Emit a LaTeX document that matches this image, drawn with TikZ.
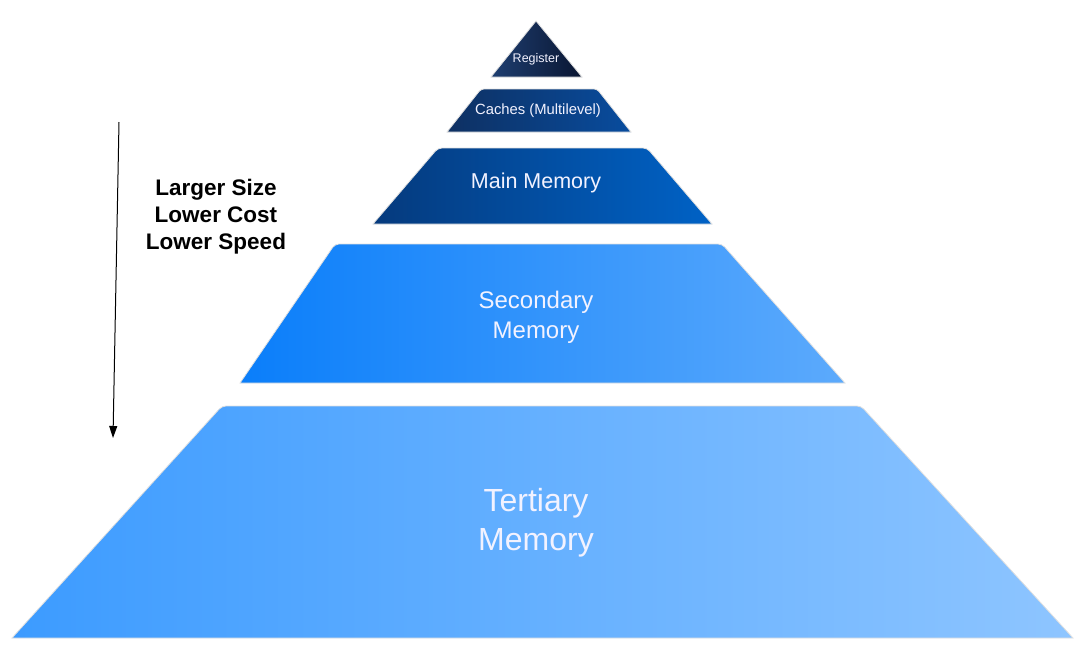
\documentclass[tikz,border=0pt]{standalone}
\usepackage{fontspec}
\setmainfont{Liberation Sans}
\usetikzlibrary{arrows.meta}

\tikzset{
  tier/.style={draw=black!12,line width=0.8pt},
  tierlabel/.style={text=white!95!blue,align=center,inner sep=0pt},
}

\begin{document}
\begin{tikzpicture}[x=1pt,y=-1pt]
    \useasboundingbox (0,0) rectangle (1080,649);

    % Register
    \shade [tier,left color={rgb,255:red,30;green,62;blue,112},right color={rgb,255:red,10;green,22;blue,50}]
      (491,77) -- (536,21) -- (582,77) -- cycle;
    \node (reg) at (536,59) [tierlabel,font=\fontsize{12.5}{15}\selectfont] {Register};

    % Caches
    \shade [tier,left color={rgb,255:red,14;green,48;blue,98},right color={rgb,255:red,8;green,76;blue,158}]
      (447,132) [rounded corners=3] -- (481,89) -- (597,89) [sharp corners] -- (631,132) -- cycle;
    \node (cache) at (538,111) [tierlabel,font=\fontsize{14.8}{17}\selectfont] {Caches (Multilevel)};

    % Main memory
    \shade [tier,left color={rgb,255:red,5;green,58;blue,125},right color={rgb,255:red,0;green,98;blue,198}]
      (373,224) [rounded corners=4] -- (438,148) -- (647,148) [sharp corners] -- (712,224) -- cycle;
    \node (main) at (536,183) [tierlabel,font=\fontsize{21.5}{25}\selectfont] {Main Memory};

    % Secondary memory
    \shade [tier,left color={rgb,255:red,10;green,126;blue,250},right color={rgb,255:red,92;green,170;blue,252}]
      (240,383) [rounded corners=4] -- (335,244) -- (722,244) [sharp corners] -- (845,383) -- cycle;
    \node (sec) at (536,317) [tierlabel,font=\fontsize{24}{30}\selectfont] {Secondary\\Memory};

    % Tertiary memory
    \shade [tier,left color={rgb,255:red,60;green,155;blue,255},right color={rgb,255:red,142;green,197;blue,255}]
      (12,638) [rounded corners=4] -- (222,406) -- (861,406) [sharp corners] -- (1073,638) -- cycle;
    \node (ter) at (536,523) [tierlabel,font=\fontsize{32}{39}\selectfont] {Tertiary\\Memory};

    % Trend arrow and its label
    \coordinate (Top) at (119,122);
    \coordinate (Bottom) at (113,438);
    \draw [line width=1pt,-{Triangle[length=12pt,width=8pt]}] (Top) -- (Bottom);
    \node (trend) at (216,217) [align=center,inner sep=0pt,font=\fontsize{22.5}{27}\selectfont\bfseries]
      {Larger Size\\Lower Cost\\Lower Speed};
\end{tikzpicture}
\end{document}
